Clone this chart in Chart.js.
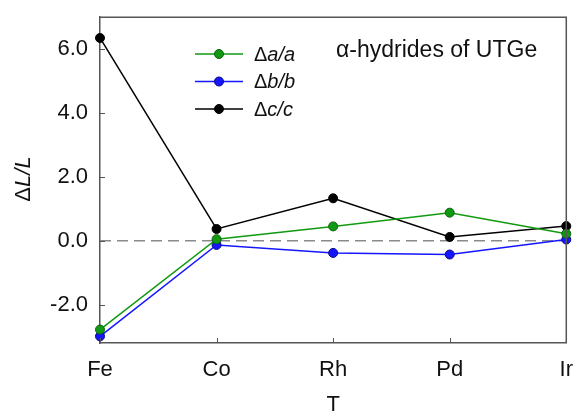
<!DOCTYPE html>
<html>
<head>
<meta charset="utf-8">
<script src="https://cdn.jsdelivr.net/npm/chart.js@4"></script>
<style>
  html, body { margin: 0; padding: 0; background: #fff; }
  #wrap { width: 579px; height: 412px; }
</style>
</head>
<body>
<div id="wrap"><canvas id="latticeChart" width="579" height="412"></canvas></div>
<script>
const elements = ['Fe', 'Co', 'Rh', 'Pd', 'Ir'];
const dA = [-2.78, 0.05, 0.45, 0.88, 0.22];   // Δa/a
const dB = [-2.99, -0.13, -0.38, -0.43, 0.04]; // Δb/b
const dC = [6.35, 0.37, 1.33, 0.12, 0.46];     // Δc/c
const zeroLine = [0, 0, 0, 0, 0];
const yTicks = [-2, 0, 2, 4, 6];

const FONT = '"Liberation Sans", Arial, sans-serif';

const series = [
  { label: 'a', data: dA, color: '#119a11', edge: '#0b5e0b' },
  { label: 'b', data: dB, color: '#1515ff', edge: '#0a0a80' },
  { label: 'c', data: dC, color: '#000000', edge: '#000000' }
];

// draws a run of [text, italic] pieces starting at x
function richText(ctx, parts, x, y, size) {
  parts.forEach(([txt, italic]) => {
    ctx.font = (italic ? 'italic ' : '') + size + 'px ' + FONT;
    ctx.fillText(txt, x, y);
    x += ctx.measureText(txt).width;
  });
}

const extras = {
  id: 'extras',
  afterDraw(chart) {
    const ctx = chart.ctx;
    const { left, right, top, bottom } = chart.chartArea;
    const xs = chart.scales.x, ys = chart.scales.y;
    ctx.save();
    // inward tick marks
    ctx.strokeStyle = '#555';
    ctx.lineWidth = 1;
    ctx.beginPath();
    yTicks.forEach(v => {
      const py = Math.round(ys.getPixelForValue(v)) + 0.5;
      ctx.moveTo(left, py); ctx.lineTo(left + 5, py);
    });
    elements.forEach((e, i) => {
      const px = Math.round(xs.getPixelForValue(i)) + 0.5;
      ctx.moveTo(px, bottom); ctx.lineTo(px, bottom - 5);
    });
    ctx.stroke();

    // legend
    ctx.textBaseline = 'middle';
    ctx.fillStyle = '#111';
    series.forEach((s, i) => {
      const y = 54 + i * 27.5;
      ctx.strokeStyle = s.color;
      ctx.lineWidth = 1.5;
      ctx.beginPath(); ctx.moveTo(195, y); ctx.lineTo(243, y); ctx.stroke();
      ctx.beginPath(); ctx.arc(219, y, 4.5, 0, Math.PI * 2);
      ctx.fillStyle = s.color; ctx.fill();
      ctx.strokeStyle = s.edge; ctx.lineWidth = 1; ctx.stroke();
      ctx.fillStyle = '#111';
      richText(ctx, [['\u0394', false], [s.label + '/' + s.label, true]], 254, y + 1, 20);
    });

    // annotation
    ctx.font = '23px ' + FONT;
    ctx.fillText('\u03b1-hydrides of UTGe', 336, 51);

    // y axis title
    ctx.translate(24, 179);
    ctx.rotate(-Math.PI / 2);
    const parts = [['\u0394', false], ['L/L', true]];
    let w = 0;
    parts.forEach(([t, it]) => { ctx.font = (it ? 'italic ' : '') + '22px ' + FONT; w += ctx.measureText(t).width; });
    richText(ctx, parts, -w / 2, 0, 22);
    ctx.restore();
  }
};

const datasets = series.map(s => ({
  data: s.data,
  borderColor: s.color,
  backgroundColor: s.color,
  pointBackgroundColor: s.color,
  pointBorderColor: s.edge,
  pointBorderWidth: 1,
  pointRadius: 4.5,
  borderWidth: 1.5,
  tension: 0,
  clip: false
}));
datasets.push({
  data: zeroLine,
  borderColor: '#8a8a8a',
  borderWidth: 1.5,
  borderDash: [11, 6],
  pointRadius: 0,
  order: 10
});

new Chart(document.getElementById('latticeChart'), {
  type: 'line',
  data: { labels: elements, datasets: datasets },
  options: {
    responsive: false,
    animation: false,
    layout: { padding: { left: 0, right: 8, top: 13, bottom: 0 } },
    plugins: { legend: { display: false }, tooltip: { enabled: false } },
    scales: {
      x: {
        offset: false,
        grid: { display: false },
        border: { display: true, color: '#555', width: 1.5 },
        ticks: { color: '#111', font: { family: FONT, size: 22 }, padding: 6, maxRotation: 0, autoSkip: false },
        title: { display: true, text: 'T', color: '#111', font: { family: FONT, size: 22 }, padding: { top: 0, bottom: -6 } },
        afterFit: s => { s.height = 69; }
      },
      y: {
        min: -3.2,
        max: 7,
        grid: { display: false },
        border: { display: true, color: '#555', width: 1.5 },
        ticks: { color: '#111', font: { family: FONT, size: 22 }, padding: 4,
                 callback: v => v.toFixed(1) },
        afterBuildTicks: s => { s.ticks = yTicks.map(v => ({ value: v })); },
        afterFit: s => { s.width = 100; }
      }
    }
  },
  plugins: [extras, {
    id: 'frame',
    afterDatasetsDraw(chart) {
      const { left, right, top, bottom } = chart.chartArea;
      const ctx = chart.ctx;
      ctx.save();
      ctx.strokeStyle = '#555';
      ctx.lineWidth = 1.5;
      ctx.beginPath();
      ctx.moveTo(left, top); ctx.lineTo(right, top); ctx.lineTo(right, bottom);
      ctx.stroke();
      ctx.restore();
    }
  }]
});
</script>
</body>
</html>
